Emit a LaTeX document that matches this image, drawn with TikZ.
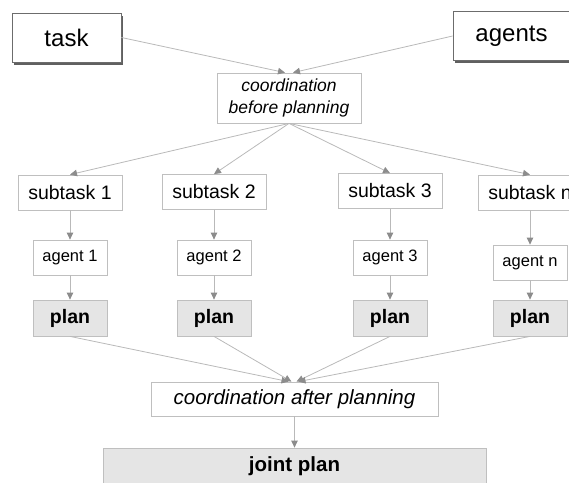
\documentclass[tikz,border=0pt]{standalone}
\usepackage{fontspec}
\setmainfont{Liberation Sans}
\usetikzlibrary{shadows,arrows.meta}

\begin{document}
\begin{tikzpicture}[x=1pt,y=-1pt,
  box/.style={draw=gray!50,fill=white,line width=0.8pt,inner sep=0pt,align=center},
  topbox/.style={box,draw=gray!85!black,minimum height=49pt,font=\fontsize{24}{27}\selectfont,
    drop shadow={shadow xshift=2pt,shadow yshift=-2.5pt,fill=gray!75!black,opacity=1}},
  subbox/.style={box,minimum width=104pt,minimum height=35pt,font=\fontsize{19.5}{22}\selectfont},
  agentbox/.style={box,minimum width=74pt,minimum height=35pt,font=\fontsize{16.5}{19}\selectfont},
  planbox/.style={box,fill=gray!20,minimum width=74pt,minimum height=36pt,font=\fontsize{19.5}{22}\selectfont\bfseries},
  link/.style={draw=gray!55,line width=0.8pt,-{Triangle[length=7pt,width=6.5pt,color=gray!90]}}
]
  \useasboundingbox (0,0) rectangle (569,482);

  % 顶部：任务与智能体
  \node[topbox,minimum width=109pt] (task) at (66.5,37.5) {task};
  \node[topbox,minimum width=117pt] (agents) at (511.5,36) {agents};
  \node[box,minimum width=144pt,minimum height=50pt,font=\fontsize{17.5}{22}\selectfont\itshape] (cbp) at (289,98)
    {coordination\\before planning};

  % 子任务
  \node[subbox] (sub1) at (70,192.5) {subtask 1};
  \node[subbox] (sub2) at (214,192) {subtask 2};
  \node[subbox] (sub3) at (390,191) {subtask 3};
  \node[subbox] (subn) at (530,192.5) {subtask n};

  % 智能体
  \node[agentbox] (ag1) at (70,257.5) {agent 1};
  \node[agentbox] (ag2) at (214,257.5) {agent 2};
  \node[agentbox] (ag3) at (390,257.5) {agent 3};
  \node[agentbox] (agn) at (530,262.5) {agent n};

  % 计划
  \node[planbox] (plan1) at (70,318) {plan};
  \node[planbox] (plan2) at (214,318) {plan};
  \node[planbox] (plan3) at (390,318) {plan};
  \node[planbox] (plann) at (530,318) {plan};

  % 底部：协调与联合计划
  \node[box,minimum width=287pt,minimum height=34pt,font=\fontsize{20.5}{23}\selectfont\itshape] (cap) at (294.5,399)
    {coordination after planning};
  \node[box,fill=gray!20,minimum width=383pt,minimum height=36pt,font=\fontsize{20.5}{23}\selectfont\bfseries] (joint) at (294.5,466)
    {joint plan};

  % 连线
  \draw[link] (task.east) -- ([xshift=-4pt]cbp.north);
  \draw[link] (agents.west) -- ([xshift=4pt]cbp.north);
  \draw[link] (cbp.south) -- (sub1.north);
  \draw[link] (cbp.south) -- (sub2.north);
  \draw[link] (cbp.south) -- (sub3.north);
  \draw[link] (cbp.south) -- (subn.north);
  \draw[link] (sub1) -- (ag1);
  \draw[link] (sub2) -- (ag2);
  \draw[link] (sub3) -- (ag3);
  \draw[link] (subn) -- (agn);
  \draw[link] (ag1) -- (plan1);
  \draw[link] (ag2) -- (plan2);
  \draw[link] (ag3) -- (plan3);
  \draw[link] (agn) -- (plann);
  \draw[link] (plan1.south) -- ([xshift=-6pt]cap.north);
  \draw[link] (plan2.south) -- ([xshift=-3pt]cap.north);
  \draw[link] (plan3.south) -- ([xshift=2pt]cap.north);
  \draw[link] (plann.south) -- ([xshift=4pt]cap.north);
  \draw[link] (cap) -- (joint);
\end{tikzpicture}
\end{document}
